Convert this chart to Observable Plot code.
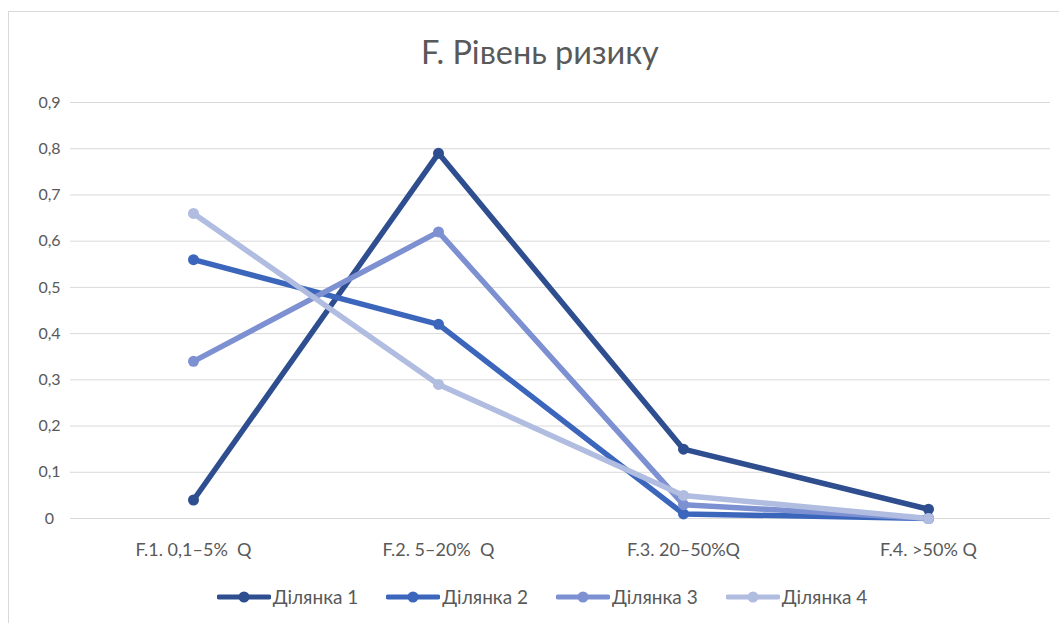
<!DOCTYPE html>
<html>
<head>
<meta charset="utf-8">
<script src="https://cdn.jsdelivr.net/npm/d3@7"></script>
<script src="https://cdn.jsdelivr.net/npm/@observablehq/plot@0.6"></script>
<style>
  html, body { margin: 0; padding: 0; background: #fff; }
  body { width: 1059px; height: 623px; overflow: hidden; position: relative;
         font-family: Lato, "Open Sans", "Noto Sans", sans-serif; color: #595959; }
  #frame { position: absolute; left: 8px; top: 11px; width: 1100px; height: 700px;
           border: 1px solid #d9d9d9; box-sizing: border-box; }
  #title { position: absolute; left: 0; width: 1080px; top: 32px; text-align: center;
           font-size: 32.5px; color: #595959; white-space: pre; }
  #chart { position: absolute; left: 0; top: 80px; }
  #legend { position: absolute; left: 0; width: 1084px; top: 585px; display: flex;
            justify-content: center; gap: 28px; font-size: 19px; color: #595959; }
  .item { display: flex; align-items: center; gap: 2px; white-space: pre; }
  .item svg { display: block; }
  #chart text { white-space: pre; }
</style>
</head>
<body>
<div id="frame"></div>
<div id="title">F. Рівень ризику</div>
<div id="chart"></div>
<div id="legend"></div>
<script>
// Risk-level categories (x axis)
const categories = ["F.1. 0,1–5%  Q", "F.2. 5–20%  Q", "F.3. 20–50%Q", "F.4. >50% Q"];
// Series names and colours
const seriesNames = ["Ділянка 1", "Ділянка 2", "Ділянка 3", "Ділянка 4"];
const seriesColors = ["#2e4e8f", "#3b66bc", "#7d90d2", "#b0bce0"];
// Values per plot (one array per series)
const plot1 = [0.04, 0.79, 0.15, 0.02];
const plot2 = [0.56, 0.42, 0.01, 0.00];
const plot3 = [0.34, 0.62, 0.03, 0.00];
const plot4 = [0.66, 0.29, 0.05, 0.00];
// Y-axis tick values
const yTicks = [0, 0.1, 0.2, 0.3, 0.4, 0.5, 0.6, 0.7, 0.8, 0.9];

const seriesValues = [plot1, plot2, plot3, plot4];
const rows = seriesNames.flatMap((name, i) =>
  categories.map((c, j) => ({series: name, category: c, value: seriesValues[i][j]})));

const fmt = d => d3.format(".1~f")(d).replace(".", ",");

const chart = Plot.plot({
  width: 1059,
  height: 500,
  marginLeft: 70,
  marginRight: 9,
  marginTop: 22,
  marginBottom: 62,
  style: {fontFamily: 'Lato, "Open Sans", "Noto Sans", sans-serif', color: "#595959", background: "transparent"},
  x: {type: "point", domain: categories, padding: 0.5, label: null},
  y: {domain: [0, 0.9], label: null},
  color: {domain: seriesNames, range: seriesColors},
  marks: [
    Plot.gridY(yTicks, {stroke: "#d9d9d9", strokeOpacity: 1, strokeWidth: 1}),
    Plot.axisY(yTicks, {tickSize: 0, tickPadding: 21, textAnchor: "middle", tickFormat: fmt,
                        fontSize: 16, fill: "#595959", label: null}),
    Plot.axisX({tickSize: 0, tickPadding: 25, fontSize: 18, fill: "#595959", label: null}),
    Plot.line(rows, {x: "category", y: "value", z: "series", stroke: "series",
                     strokeWidth: 5.5, strokeLinejoin: "round", strokeLinecap: "round"}),
    Plot.dot(rows, {x: "category", y: "value", fill: "series", r: 5.5, stroke: "none"})
  ]
});
document.getElementById("chart").appendChild(chart);

// Legend: line-and-marker swatch per series
const legend = d3.select("#legend");
seriesNames.forEach((name, i) => {
  const item = legend.append("div").attr("class", "item");
  const sw = item.append("svg").attr("width", 54).attr("height", 14);
  sw.append("line").attr("x1", 2).attr("x2", 52).attr("y1", 7).attr("y2", 7)
    .attr("stroke", seriesColors[i]).attr("stroke-width", 5).attr("stroke-linecap", "round");
  sw.append("circle").attr("cx", 27).attr("cy", 7).attr("r", 5.5).attr("fill", seriesColors[i]);
  item.append("span").text(name);
});
</script>
</body>
</html>
